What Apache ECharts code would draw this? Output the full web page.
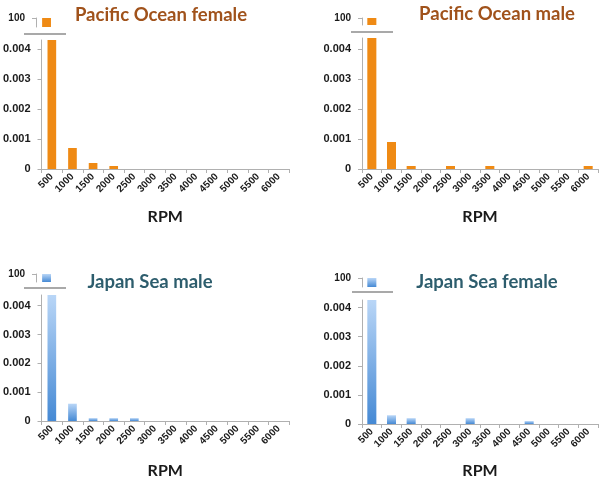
<!DOCTYPE html>
<html>
<head>
<meta charset="utf-8">
<script src="https://cdn.jsdelivr.net/npm/echarts@6/dist/echarts.min.js"></script>
<style>html,body{margin:0;padding:0;background:#fff}#c{width:600px;height:480px}</style>
</head>
<body>
<div id="c"></div>
<script>
const categories = ['500','1000','1500','2000','2500','3000','3500','4000','4500','5000','5500','6000'];
const pacificFemale = [100, 0.0007, 0.0002, 0.0001, 0, 0, 0, 0, 0, 0, 0, 0];
const pacificMale   = [100, 0.0009, 0.0001, 0, 0.0001, 0, 0.0001, 0, 0, 0, 0, 0.0001];
const japanMale     = [100, 0.0006, 0.0001, 0.0001, 0.0001, 0, 0, 0, 0, 0, 0, 0];
const japanFemale   = [100, 0.0003, 0.0002, 0, 0, 0.0002, 0, 0, 0.0001, 0, 0, 0];
const lowerTicks = [0, 0.001, 0.002, 0.003, 0.004];
const upperTicks = [100];
const titles = ['Pacific Ocean female', 'Pacific Ocean male', 'Japan Sea male', 'Japan Sea female'];
const axisName = 'RPM';

const orange = '#ef8a14';
const blueGrad = new echarts.graphic.LinearGradient(0, 0, 0, 1, [
  {offset: 0, color: '#b9d6f7'}, {offset: 1, color: '#4589d4'}
]);

const panels = [
  {data: pacificFemale, color: orange, titleColor: '#a0521b', tx: 156, ty: 1,
   left: 36, width: 253, top: 40, height: 129, max: 0.0043, uTop: 18, uH: 9,
   brk: [24, 66, 34], bw: '42%', gap: 40},
  {data: pacificMale, color: orange, titleColor: '#a0521b', tx: 492, ty: 0,
   left: 362, width: 236, top: 38, height: 131, max: 0.00437, uTop: 18, uH: 7,
   brk: [351, 393, 32], bw: '46%', gap: 40},
  {data: japanMale, color: blueGrad, titleColor: '#2d5d6d', tx: 145, ty: 268,
   left: 36, width: 253, top: 295, height: 130, max: 0.00437, uTop: 274, uH: 8,
   brk: [24, 66, 288], bw: '42%', gap: 42},
  {data: japanFemale, color: blueGrad, titleColor: '#2d5d6d', tx: 482, ty: 268,
   left: 362, width: 236, top: 300, height: 128, max: 0.00426, uTop: 278, uH: 9,
   brk: [352, 393, 292], bw: '46%', gap: 39}
];

const grid = [], xAxis = [], yAxis = [], series = [], title = [], graphic = [];
const labelFont = {fontFamily: 'Liberation Sans', fontWeight: 'bold', color: '#1a1a1a'};

panels.forEach((p, i) => {
  title.push({text: titles[i], left: p.tx, top: p.ty, textAlign: 'center',
    textStyle: {fontFamily: 'Lato', fontWeight: 'bold', fontSize: 18.5, color: p.titleColor}});
  grid.push({left: p.left, top: p.top, width: p.width, height: p.height, containLabel: false});
  grid.push({left: p.left, top: p.uTop, width: p.width, height: p.uH, containLabel: false});
  const gl = i * 2, gu = i * 2 + 1;
  xAxis.push({type: 'category', gridIndex: gl, data: categories, boundaryGap: true,
    name: axisName, nameLocation: 'middle', nameGap: p.gap,
    nameTextStyle: {fontFamily: 'Lato', fontWeight: 'bold', fontSize: 16, color: '#1a1a1a'},
    axisLine: {lineStyle: {color: '#b0b0b0', width: 1}},
    axisTick: {show: true, length: 4, interval: 0, lineStyle: {color: '#b0b0b0'}},
    axisLabel: Object.assign({rotate: 45, interval: 0, fontSize: 10, margin: 6}, labelFont)
  });
  xAxis.push({type: 'category', gridIndex: gu, data: categories, boundaryGap: true, show: false});
  yAxis.push({type: 'value', gridIndex: gl, min: 0, max: p.max,
    splitLine: {show: false},
    axisLine: {show: true, lineStyle: {color: '#b0b0b0'}},
    axisTick: {show: true, length: 4, customValues: lowerTicks, lineStyle: {color: '#b0b0b0'}},
    axisLabel: Object.assign({fontSize: 11, margin: 11, customValues: lowerTicks,
      formatter: v => v === 0 ? '0' : v.toFixed(3)}, labelFont)
  });
  yAxis.push({type: 'value', gridIndex: gu, min: 0, max: 100,
    splitLine: {show: false},
    axisLine: {show: true, lineStyle: {color: '#b0b0b0'}},
    axisTick: {show: true, length: 4, customValues: upperTicks, lineStyle: {color: '#b0b0b0'}},
    axisLabel: Object.assign({fontSize: 10, margin: 11, customValues: upperTicks}, labelFont)
  });
  series.push({type: 'bar', xAxisIndex: gl, yAxisIndex: gl, data: p.data, barWidth: p.bw,
    clip: true, itemStyle: {color: p.color}, silent: true, animation: false});
  series.push({type: 'bar', xAxisIndex: gu, yAxisIndex: gu, data: p.data, barWidth: p.bw,
    clip: true, itemStyle: {color: p.color}, silent: true, animation: false});
  graphic.push({type: 'line', shape: {x1: p.brk[0], y1: p.brk[2], x2: p.brk[1], y2: p.brk[2]},
    style: {stroke: '#555', lineWidth: 1.2}});
});

const chart = echarts.init(document.getElementById('c'), null, {renderer: 'canvas'});
chart.setOption({animation: false, backgroundColor: '#fff', title, grid, xAxis, yAxis, series, graphic});
</script>
</body>
</html>
